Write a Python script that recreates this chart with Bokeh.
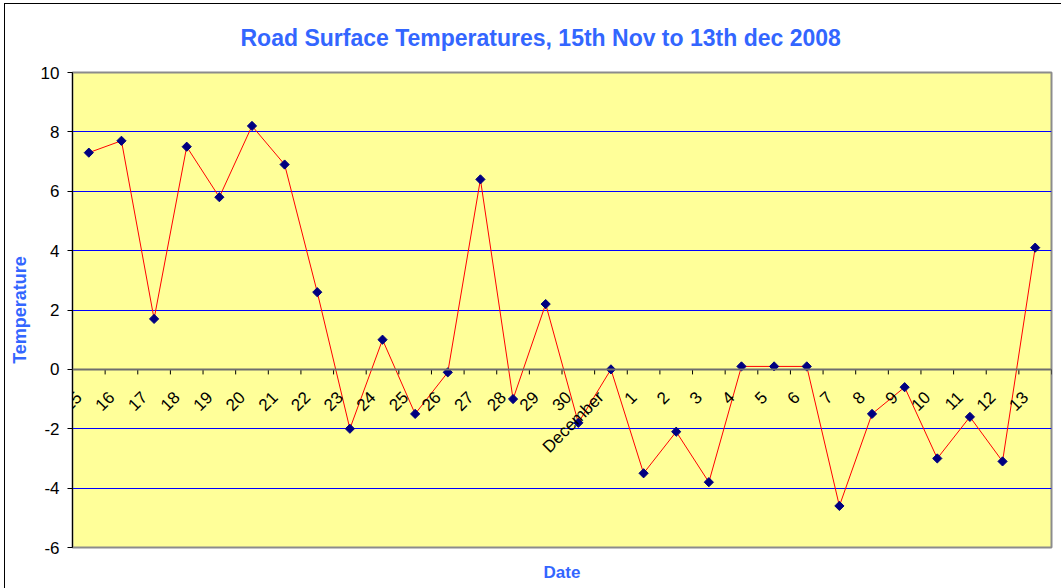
from math import pi

from bokeh.plotting import figure
from bokeh.models import ColumnDataSource, FactorRange, Range1d, FixedTicker, Span, LabelSet
from bokeh.transform import dodge
from bokeh.core.properties import value
from bokeh.embed import file_html
from bokeh.resources import INLINE

# ---- data ----
dates = ["15", "16", "17", "18", "19", "20", "21", "22", "23", "24", "25", "26",
         "27", "28", "29", "30", "December", "1", "2", "3", "4", "5", "6", "7",
         "8", "9", "10", "11", "12", "13"]
temperatures = [7.3, 7.7, 1.7, 7.5, 5.8, 8.2, 6.9, 2.6, -2.0, 1.0, -1.5, -0.1,
                6.4, -1.0, 2.2, -1.8, 0.0, -3.5, -2.1, -3.8, 0.1, 0.1, 0.1, -4.6,
                -1.5, -0.6, -3.0, -1.6, -3.1, 4.1]
y_ticks = [-6, -4, -2, 0, 2, 4, 6, 8, 10]
grid_levels = [-4, -2, 2, 4, 6, 8]
title_text = "Road Surface Temperatures, 15th Nov to 13th dec 2008"
x_title = "Date"
y_title = "Temperature"

FONT = "Liberation Sans"
BLUE = "#3366FF"

src = ColumnDataSource(dict(cat=dates, temp=temperatures, zero=[0] * len(dates),
                            tick_end=[-0.17] * len(dates)))

p = figure(width=1061, height=588,
           x_range=FactorRange(factors=dates), y_range=Range1d(-6, 10),
           output_backend="svg", toolbar_location=None, title=title_text,
           min_border_left=72, min_border_right=10, min_border_top=72,
           min_border_bottom=41)

# chart-area border (left and top edges visible in the window)
p.styles = {
    "background-color": "white",
    "background-image": "linear-gradient(black, black), linear-gradient(black, black)",
    "background-size": "1px 100%, 100% 1px",
    "background-position": "4px 3px, 4px 3px",
    "background-repeat": "no-repeat",
}

p.title.align = "left"
p.title.offset = 168
p.title.standoff = 44
p.title.text_font = FONT
p.title.text_font_style = "bold"
p.title.text_font_size = "23px"
p.title.text_color = BLUE

p.background_fill_color = "#FFFF99"
p.border_fill_color = None
p.outline_line_color = "#8c8c8c"
p.outline_line_width = 2

# grid
p.xgrid.visible = False
p.ygrid.ticker = FixedTicker(ticks=grid_levels)
p.ygrid.grid_line_color = "#0000FF"
p.ygrid.grid_line_width = 1

# y axis
p.yaxis.ticker = FixedTicker(ticks=y_ticks)
p.yaxis.major_label_overrides = {t: str(t) for t in y_ticks}
p.yaxis.axis_line_color = "black"
p.yaxis.major_tick_line_color = "black"
p.yaxis.major_tick_in = 0
p.yaxis.major_tick_out = 5
p.yaxis.minor_tick_line_color = None
p.yaxis.major_label_text_font = FONT
p.yaxis.major_label_text_font_size = "17px"
p.yaxis.major_label_text_color = "black"
p.yaxis.major_label_standoff = 8
p.yaxis.axis_label = y_title
p.yaxis.axis_label_text_font = FONT
p.yaxis.axis_label_text_font_style = "bold"
p.yaxis.axis_label_text_font_size = "18px"
p.yaxis.axis_label_text_color = BLUE
p.yaxis.axis_label_standoff = 8

# x axis (only the title; category labels sit on the zero line)
p.xaxis.axis_line_color = None
p.xaxis.major_tick_line_color = None
p.xaxis.minor_tick_line_color = None
p.xaxis.major_tick_out = 0
p.xaxis.major_tick_in = 0
p.xaxis.major_label_text_font_size = "0px"
p.xaxis.major_label_text_color = None
p.xaxis.major_label_standoff = 0
p.xaxis.axis_label = x_title
p.xaxis.axis_label_text_font = FONT
p.xaxis.axis_label_text_font_style = "bold"
p.xaxis.axis_label_text_font_size = "17px"
p.xaxis.axis_label_text_color = BLUE
p.xaxis.axis_label_standoff = 15

# zero line acting as category axis
p.add_layout(Span(location=0, dimension="width", line_color="#6e6e6e", line_width=2))
p.segment(x0=dodge("cat", 0.5, range=p.x_range), y0="zero",
          x1=dodge("cat", 0.5, range=p.x_range), y1="tick_end",
          source=src, line_color="black", line_width=1)
p.add_layout(LabelSet(x="cat", y="zero", text="cat", source=src, angle=pi / 4,
                      x_offset=-10, y_offset=-25, text_align="right",
                      text_baseline="middle", text_font=value(FONT),
                      text_font_size="17px", text_color="black", level="overlay"))

# series
p.line(x="cat", y="temp", source=src, line_color="#FF0000", line_width=1)
p.scatter(x="cat", y="temp", source=src, marker="square", angle=pi / 4, size=6.5,
          fill_color="#000080", line_color="#000080", line_width=1)

open("out.html", "w").write(file_html(p, INLINE))
